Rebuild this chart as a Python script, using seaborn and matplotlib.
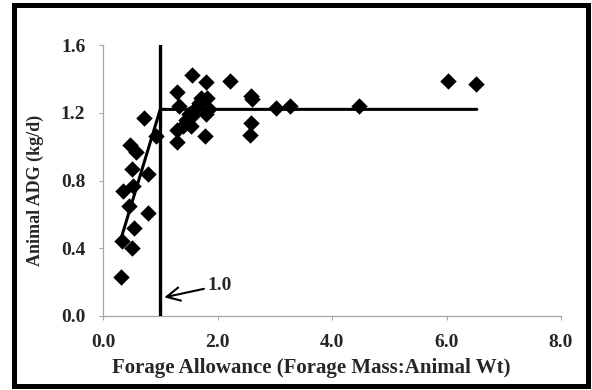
import matplotlib
matplotlib.use("Agg")
import matplotlib.pyplot as plt
import matplotlib.patches as mpatches
import seaborn as sns
import pandas as pd

# ---- data ----
forage_allowance = [0.31, 0.33, 0.50, 0.54, 0.45, 0.79, 0.35, 0.52, 0.51, 0.79,
                    0.48, 0.57, 0.72, 0.93,
                    1.29, 1.30, 1.39, 1.45, 1.50, 1.53, 1.56, 1.33, 1.30, 1.56,
                    1.80, 2.22, 1.68, 1.71, 1.82, 1.62, 1.85, 1.80, 1.78,
                    2.58, 2.61, 2.58, 2.56, 3.02, 3.26, 4.48, 6.03, 6.52]
animal_adg = [0.23, 0.44, 0.40, 0.52, 0.65, 0.61, 0.74, 0.77, 0.87, 0.84,
              1.01, 0.97, 1.17, 1.06,
              1.03, 1.10, 1.12, 1.16, 1.19, 1.12, 1.18, 1.24, 1.32, 1.42,
              1.38, 1.39, 1.26, 1.29, 1.29, 1.23, 1.22, 1.19, 1.06,
              1.30, 1.28, 1.14, 1.07, 1.23, 1.24, 1.24, 1.39, 1.37]

# broken-stick fit
fit_x = [0.30, 1.0, 6.53]
fit_y = [0.44, 1.22, 1.22]
breakpoint_x = 1.0
breakpoint_label = "1.0"

x_ticks = [0.0, 2.0, 4.0, 6.0, 8.0]
y_ticks = [0.0, 0.4, 0.8, 1.2, 1.6]

sns.set_style("white")
FAM = "Liberation Serif"
plt.rcParams["font.family"] = [FAM, "FreeSerif", "DejaVu Serif"]
plt.rcParams["font.weight"] = "bold"

fig = plt.figure(figsize=(5.92, 3.90), dpi=100)
ax = fig.add_axes([103 / 592, 1 - 316 / 390, (561 - 103) / 592, (316 - 45) / 390])

df = pd.DataFrame({"x": forage_allowance, "y": animal_adg})
sns.scatterplot(data=df, x="x", y="y", marker="D", s=70, color="black",
                edgecolor="black", linewidth=0, ax=ax, zorder=3)

fit_df = pd.DataFrame({"x": fit_x, "y": fit_y})
sns.lineplot(data=fit_df, x="x", y="y", color="black", linewidth=2.2,
             sort=False, ax=ax, zorder=4, estimator=None)
ax.axvline(breakpoint_x, color="black", linewidth=2.4, zorder=4)

ax.annotate(breakpoint_label, xy=(breakpoint_x + 0.07, 0.11), xytext=(1.82, 0.18),
            family=FAM, fontsize=14, fontweight="bold", va="center", ha="left",
            arrowprops=dict(arrowstyle="->", color="black", lw=1.5,
                            mutation_scale=24, shrinkA=0, shrinkB=0))

ax.set_xlim(0, 8)
ax.set_ylim(0, 1.6)
ax.set_xticks(x_ticks)
ax.set_yticks(y_ticks)
ax.set_xticklabels([f"{v:.1f}" for v in x_ticks], family=FAM, fontsize=14,
                   fontweight="bold")
ax.set_yticklabels([f"{v:.1f}" for v in y_ticks], family=FAM, fontsize=14,
                   fontweight="bold")
ax.tick_params(axis="both", direction="out", length=3.2, width=0.8, color="#a6a6a6",
               left=True, bottom=True)
ax.tick_params(axis="y", pad=9.5)
ax.tick_params(axis="x", pad=9.5)

for side in ["top", "right"]:
    ax.spines[side].set_visible(False)
for side in ["left", "bottom"]:
    ax.spines[side].set_color("#a6a6a6")
    ax.spines[side].set_linewidth(0.9)

ax.set_xlabel("Forage Allowance (Forage Mass:Animal Wt)", family=FAM, fontsize=15,
              fontweight="bold")
ax.set_ylabel("Animal ADG (kg/d)", family=FAM, fontsize=13, fontweight="bold")
ax.xaxis.set_label_coords((311.7 - 103) / (561 - 103), -(368 - 316) / (316 - 45))
ax.yaxis.set_label_coords(-(103 - 35) / (561 - 103), (316 - 190) / (316 - 45))
ax.xaxis.label.set_va("center")
ax.yaxis.label.set_va("center")

# outer frame
frame = mpatches.Rectangle((13.5 / 592, 1 - 386 / 390), (588 - 13.5) / 592,
                           (386 - 4.5) / 390, transform=fig.transFigure,
                           fill=False, edgecolor="black", linewidth=3.6)
fig.patches.append(frame)

fig.savefig("out.png", dpi=100)
